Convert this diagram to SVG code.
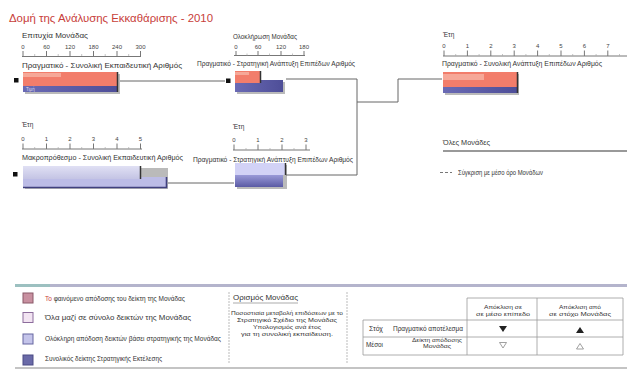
<svg xmlns="http://www.w3.org/2000/svg" width="627" height="370" viewBox="0 0 627 370">
<defs>
<style>
.t{font-family:"Liberation Sans",Arial,sans-serif;font-size:6.5px;fill:#333}
.n{font-family:"Liberation Sans",Arial,sans-serif;font-size:6px;fill:#444;text-anchor:middle}
.c{font-family:"Liberation Sans",Arial,sans-serif;font-size:6px;fill:#333;text-anchor:middle}
.ax{stroke:#777;stroke-width:1;fill:none}
.mi{stroke:#aaa;stroke-width:0.7;fill:none}
.con{stroke:#666;stroke-width:1;fill:none}
.salmon{fill:#f27d6b}
.salmonL{fill:#f6a898}
.blue{fill:url(#gb)}
.edge{stroke:#333;stroke-width:1.5}
.sh{fill:#666;opacity:0.45}
.mk{fill:#111}
.grid{stroke:#999;stroke-width:0.8;fill:none}
</style>
<linearGradient id="gb" x1="0" y1="0" x2="1" y2="0">
<stop offset="0" stop-color="#6a6ab4"/>
<stop offset="1" stop-color="#4e4e98"/>
</linearGradient>
<linearGradient id="gl" x1="0" y1="0" x2="0" y2="1">
<stop offset="0" stop-color="#e0e0f4"/>
<stop offset="1" stop-color="#c4c4e4"/>
</linearGradient>
<linearGradient id="gm" x1="0" y1="0" x2="0" y2="1">
<stop offset="0" stop-color="#9a9ad8"/>
<stop offset="1" stop-color="#5a5aa4"/>
</linearGradient>
</defs>
<rect width="627" height="370" fill="#fff"/>

<text x="9" y="22" font-family="'Liberation Sans',Arial,sans-serif" font-size="11" fill="#c8403a" textLength="204" lengthAdjust="spacingAndGlyphs">Δομή της Ανάλυσης Εκκαθάρισης - 2010</text>

<g id="connectors">
<path class="con" d="M120 81 H225"/>
<path class="con" d="M168 183 H234"/>
<path class="con" d="M286 79 H357 V175 H286"/>
<path class="con" d="M357 102 H398 V79 H442"/>
</g>

<g id="node-1">
<text class="t" x="22" y="38" textLength="66" lengthAdjust="spacingAndGlyphs">Επιτυχία Μονάδας</text>
<text class="n" x="23" y="49">0</text><text class="n" x="46.5" y="49">60</text><text class="n" x="70" y="49">120</text><text class="n" x="93.5" y="49">180</text><text class="n" x="117" y="49">240</text><text class="n" x="140.5" y="49">300</text>
<path class="ax" d="M22 56.5 H141 M23 51 V56.5 M46.5 51 V56.5 M70 51 V56.5 M93.5 51 V56.5 M117 51 V56.5 M140.5 51 V56.5"/>
<path class="mi" d="M34.7 54 V56 M58.2 54 V56 M81.7 54 V56 M105.2 54 V56 M128.7 54 V56"/>
<text class="t" x="22" y="68" textLength="160" lengthAdjust="spacingAndGlyphs">Πραγματικό - Συνολική Εκπαιδευτική Αριθμός</text>
<rect class="mk" x="14" y="78" width="4.5" height="4.5"/>
<rect class="sh" x="25" y="74" width="95" height="20"/>
<rect class="salmon" x="23" y="72" width="94" height="14"/>
<rect class="salmonL" x="23" y="73" width="38" height="4"/>
<rect class="blue" x="23" y="86" width="94" height="6"/>
<path class="edge" d="M117.5 72 V92"/>
<text x="26" y="90.5" font-family="'Liberation Sans',Arial,sans-serif" font-size="4.5" fill="#dde">Τιμή</text>
</g>

<g id="node-2">
<text class="t" x="233" y="39" textLength="64" lengthAdjust="spacingAndGlyphs">Ολοκλήρωση Μονάδας</text>
<text class="n" x="236" y="49">0</text><text class="n" x="258" y="49">60</text><text class="n" x="281" y="49">120</text><text class="n" x="304" y="49">180</text>
<path class="ax" d="M234 55.5 H305 M236 51 V55.5 M258 51 V55.5 M281 51 V55.5 M304 51 V55.5"/>
<path class="mi" d="M247 53.5 V55.5 M269.5 53.5 V55.5 M292.5 53.5 V55.5"/>
<text class="t" x="197" y="66" textLength="158" lengthAdjust="spacingAndGlyphs">Πραγματικό - Στρατηγική Ανάπτυξη Επιπέδων Αριθμός</text>
<rect class="mk" x="226" y="78.5" width="4.5" height="4.5"/>
<rect class="sh" x="237" y="82" width="48" height="12"/>
<rect class="blue" x="235" y="80" width="48" height="12"/>
<rect class="salmon" x="235" y="71" width="25" height="12"/>
<rect class="salmonL" x="235" y="72" width="14" height="3"/>
<path class="edge" d="M260.5 71 V83"/>
</g>

<g id="node-3">
<text class="t" x="443" y="37">Έτη</text>
<text class="n" x="444" y="48">0</text><text class="n" x="467.4" y="48">1</text><text class="n" x="490.8" y="48">2</text><text class="n" x="514.2" y="48">3</text><text class="n" x="537.6" y="48">4</text><text class="n" x="561" y="48">5</text><text class="n" x="584.4" y="48">6</text><text class="n" x="607.8" y="48">7</text>
<path class="ax" d="M443 56 H627 M444 50.5 V56 M467.4 50.5 V56 M490.8 50.5 V56 M514.2 50.5 V56 M537.6 50.5 V56 M561 50.5 V56 M584.4 50.5 V56 M607.8 50.5 V56"/>
<path class="mi" d="M455.7 54 V56 M479.1 54 V56 M502.5 54 V56 M525.9 54 V56 M549.3 54 V56 M572.7 54 V56 M596.1 54 V56 M619.5 54 V56"/>
<text class="t" x="442" y="66" textLength="160" lengthAdjust="spacingAndGlyphs">Πραγματικό - Συνολική Ανάπτυξη Επιπέδων Αριθμός</text>
<rect class="sh" x="445" y="74" width="74" height="21"/>
<rect class="salmon" x="443" y="72" width="74" height="15"/>
<rect class="salmonL" x="443" y="74" width="41" height="6"/>
<rect class="blue" x="443" y="87" width="74" height="6"/>
<path class="edge" d="M517.5 72 V93"/>
</g>

<g id="node-4">
<text class="t" x="22" y="127">Έτη</text>
<text class="n" x="23" y="141">0</text><text class="n" x="46.5" y="141">1</text><text class="n" x="70" y="141">2</text><text class="n" x="93.5" y="141">3</text><text class="n" x="117" y="141">4</text><text class="n" x="140.5" y="141">5</text>
<path class="ax" d="M22 149 H142 M23 143.5 V149 M46.5 143.5 V149 M70 143.5 V149 M93.5 143.5 V149 M117 143.5 V149 M140.5 143.5 V149"/>
<path class="mi" d="M34.7 147 V149 M58.2 147 V149 M81.7 147 V149 M105.2 147 V149 M128.7 147 V149"/>
<text class="t" x="22" y="160" textLength="161" lengthAdjust="spacingAndGlyphs">Μακροπρόθεσμο - Συνολική Εκπαιδευτική Αριθμός</text>
<rect class="mk" x="13" y="172" width="4.5" height="4.5"/>
<rect class="sh" x="25" y="168" width="143" height="21"/>
<rect x="23" y="177" width="143" height="10" fill="#bcbce6"/>
<path d="M23 187.5 H166.5 V177" stroke="#40407e" stroke-width="1.6" fill="none"/>
<rect x="23" y="166" width="117" height="13" fill="url(#gl)"/>
<path class="edge" d="M140.5 166 V179"/>
</g>

<g id="node-5">
<text class="t" x="233" y="129">Έτη</text>
<text class="n" x="234" y="142">0</text><text class="n" x="258" y="142">1</text><text class="n" x="282" y="142">2</text><text class="n" x="306" y="142">3</text>
<path class="ax" d="M233 150 H310 M234 144.5 V150 M258 144.5 V150 M282 144.5 V150 M306 144.5 V150"/>
<path class="mi" d="M246 148 V150 M270 148 V150 M294 148 V150"/>
<text class="t" x="193" y="162" textLength="160" lengthAdjust="spacingAndGlyphs">Πραγματικό - Στρατηγική Ανάπτυξη Επιπέδων Αριθμός</text>
<rect class="sh" x="237" y="165" width="50" height="24"/>
<rect x="235" y="175" width="48" height="12" fill="url(#gm)"/>
<rect x="235" y="163" width="50" height="12" fill="#d2d2f6"/>
<path class="edge" d="M285.5 163 V175"/>
</g>

<g id="all-units">
<text class="t" x="443" y="145" textLength="47" lengthAdjust="spacingAndGlyphs">Όλες Μονάδες</text>
<path d="M443 151 H627" stroke="#999" stroke-width="1.8"/>
<path d="M440 172.5 H452" stroke="#777" stroke-width="1" stroke-dasharray="3 2"/>
<text class="t" x="458" y="174.5" textLength="85" lengthAdjust="spacingAndGlyphs">Σύγκριση με μέσο όρο Μονάδων</text>
</g>

<g id="legend">
<path d="M15 285.5 H627" stroke="#b4b4cc" stroke-width="3"/>
<path d="M15 285.5 H50" stroke="#9cc0c0" stroke-width="3"/>
<path d="M15 368 H627" stroke="#c4c4c4" stroke-width="2"/>
<rect x="23" y="293" width="10" height="10" fill="#c890a0" stroke="#8a5868" stroke-width="1"/>
<rect x="23" y="312.5" width="10" height="10" fill="#f2e4f2" stroke="#8c6c9c" stroke-width="1"/>
<rect x="23" y="334" width="10" height="10" fill="#c4c4ea" stroke="#6666a0" stroke-width="1"/>
<rect x="23" y="355" width="10" height="10" fill="#6a6aa8" stroke="#4a4a84" stroke-width="1"/>
<text class="t" x="45" y="300.5" textLength="140" lengthAdjust="spacingAndGlyphs"><tspan fill="#c8403a">Το</tspan> φαινόμενο απόδοσης του δείκτη της Μονάδας</text>
<text class="t" x="45" y="320" textLength="146" lengthAdjust="spacingAndGlyphs">Όλα μαζί σε σύνολο δεικτών της Μονάδας</text>
<text class="t" x="45" y="341" textLength="176" lengthAdjust="spacingAndGlyphs">Ολόκληρη απόδοση δεικτών βάσει στρατηγικής της Μονάδας</text>
<text class="t" x="45" y="361" textLength="117" lengthAdjust="spacingAndGlyphs">Συνολικός δείκτης Στρατηγικής Εκτέλεσης</text>
</g>

<g id="definition">
<path d="M229 292 V364 M347 292 V364" stroke="#aaa" stroke-width="0.8" stroke-dasharray="2 1"/>
<text class="t" x="233" y="300" textLength="65" lengthAdjust="spacingAndGlyphs">Ορισμός Μονάδας</text>
<path d="M233 303 H298" stroke="#888" stroke-width="0.7"/>
<text class="c" x="287" y="315" textLength="112" lengthAdjust="spacingAndGlyphs">Ποσοστιαία μεταβολή επιδόσεων με το</text>
<text class="c" x="287" y="322" textLength="100" lengthAdjust="spacingAndGlyphs">Στρατηγικό Σχέδιο της Μονάδας</text>
<text class="c" x="287" y="329" textLength="68" lengthAdjust="spacingAndGlyphs">Υπολογισμός ανά έτος</text>
<text class="c" x="287" y="336" textLength="92" lengthAdjust="spacingAndGlyphs">για τη συνολική εκπαίδευση.</text>
</g>

<g id="table">
<path class="grid" d="M467 298 H623 M363 320 H623 M363 337 H623 M363 355 H623 M363 320 V355 M467 298 V355 M537 298 V355 M623 298 V355"/>
<text class="c" x="503" y="309" textLength="38" lengthAdjust="spacingAndGlyphs" fill="#336">Απόκλιση σε</text>
<text class="c" x="503" y="315.5" textLength="54" lengthAdjust="spacingAndGlyphs" fill="#336">σε μέσο επίπεδο</text>
<text class="c" x="580" y="309" textLength="42" lengthAdjust="spacingAndGlyphs" fill="#336">Απόκλιση από</text>
<text class="c" x="580" y="315.5" textLength="62" lengthAdjust="spacingAndGlyphs" fill="#336">σε στόχο Μονάδας</text>
<text class="t" x="369" y="331" textLength="14" lengthAdjust="spacingAndGlyphs">Στόχ</text>
<text class="t" x="393" y="331" textLength="70" lengthAdjust="spacingAndGlyphs">Πραγματικό αποτέλεσμα</text>
<text class="t" x="366" y="347" textLength="17" lengthAdjust="spacingAndGlyphs">Μέσοι</text>
<text class="c" x="437" y="342" textLength="50" lengthAdjust="spacingAndGlyphs">Δείκτη απόδοσης</text>
<text class="c" x="437" y="348" textLength="28" lengthAdjust="spacingAndGlyphs">Μονάδας</text>
<path d="M499 326 H507 L503 332 Z" fill="#222"/>
<path d="M580 327 L584 333 H576 Z" fill="#222"/>
<path d="M499.5 342.5 H506.5 L503 348 Z" fill="none" stroke="#888" stroke-width="0.8"/>
<path d="M580 343.5 L583.5 349 H576.5 Z" fill="none" stroke="#888" stroke-width="0.8"/>
</g>
</svg>
